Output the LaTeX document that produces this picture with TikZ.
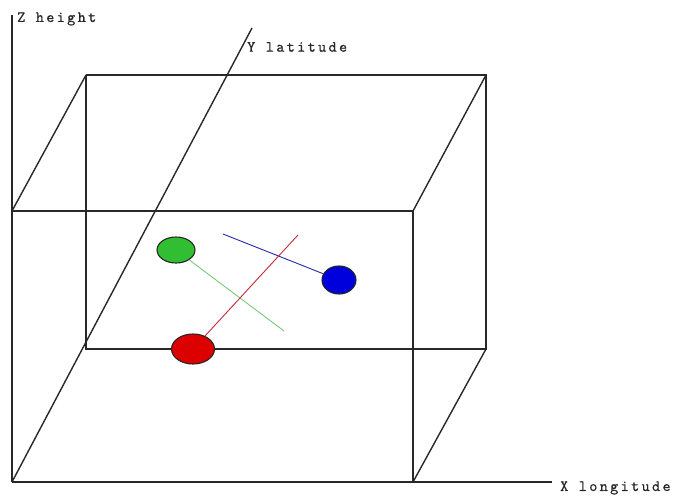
\documentclass[tikz,border=0pt]{standalone}
\usepackage{fontspec}
\newfontfamily\lblfont{lmmono10-regular.otf}[LetterSpace=15,FakeBold=0.5]
\usetikzlibrary{shapes.geometric}
\definecolor{edgegray}{RGB}{40,40,40}
\definecolor{ballgreen}{RGB}{50,190,50}
\definecolor{linegreen}{RGB}{120,200,120}
\definecolor{ballblue}{RGB}{0,0,220}
\definecolor{lineblue}{RGB}{40,40,170}
\definecolor{ballred}{RGB}{220,0,0}
\definecolor{linered}{RGB}{200,40,60}
\begin{document}
\begin{tikzpicture}[x=1pt,y=-1pt,
  edge/.style={draw=edgegray,line width=1.4pt},
  ball/.style={ellipse,draw=black!85,line width=1.1pt,inner sep=0pt},
  lbl/.style={font=\lblfont\fontsize{15.5}{15.5}\selectfont,anchor=west,inner sep=0pt,text=black!85}]
\useasboundingbox (0,0) rectangle (682,497);
% corners
\coordinate (o) at (12,482);
\coordinate (ftl) at (12,211);
\coordinate (ftr) at (413,211);
\coordinate (fbr) at (413,482);
\coordinate (btl) at (86,75);
\coordinate (btr) at (486,75);
\coordinate (bbl) at (86,349);
\coordinate (bbr) at (486,349);
\coordinate (zend) at (12,15);
\coordinate (xend) at (552,482);
\coordinate (yend) at (252,28);
% axes
\draw[edge] (o) -- (zend);
\draw[edge] (o) -- (xend);
\draw[edge] (o) -- (yend);
% cube
\draw[edge] (ftl) -- (ftr) -- (fbr);
\draw[edge] (btl) -- (btr) -- (bbr) -- (bbl) -- (btl);
\draw[edge] (ftl) -- (btl);
\draw[edge] (ftr) -- (btr);
\draw[edge] (fbr) -- (bbr);
% labels
\node[lbl] (zl) at (17,19) {Z height};
\node[lbl] (yl) at (247,47) {Y latitude};
\node[lbl] (xl) at (560,488) {X longitude};
% line ends
\coordinate (ge) at (284,331);
\coordinate (be) at (223,234);
\coordinate (re) at (298,235);
% balls
\node[ball,fill=ballgreen,minimum width=38pt,minimum height=26pt] (g) at (176,250) {};
\node[ball,fill=ballblue,minimum width=34pt,minimum height=28pt] (b) at (339,280) {};
\node[ball,fill=ballred,minimum width=43pt,minimum height=30pt] (r) at (193,349) {};
% connectors
\draw[linegreen,line width=0.9pt] (g) -- (ge);
\draw[lineblue,line width=0.9pt] (be) -- (b);
\draw[linered,line width=0.9pt] (re) -- (r);
\end{tikzpicture}
\end{document}
